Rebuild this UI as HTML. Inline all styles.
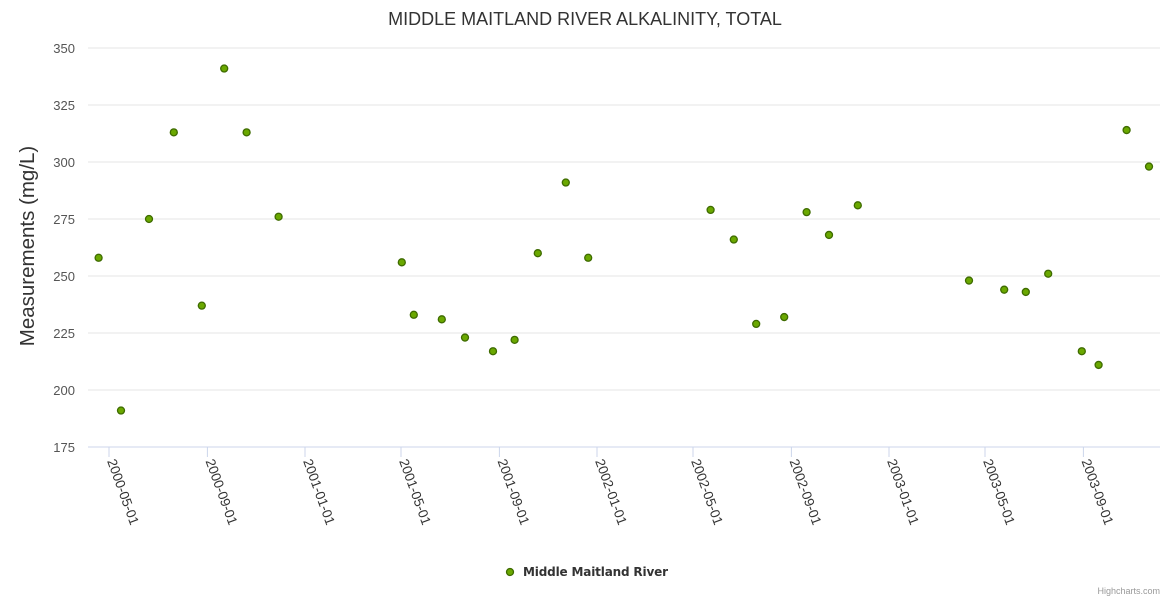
<!DOCTYPE html>
<html><head><meta charset="utf-8">
<style>
body{margin:0;background:#fff;font-family:"Liberation Sans",sans-serif;}
svg text{font-family:"Liberation Sans",sans-serif;}
</style></head>
<body>
<svg id="chart" width="1170" height="600" xmlns="http://www.w3.org/2000/svg">
<text x="585" y="25" text-anchor="middle" font-size="18" fill="#333">MIDDLE MAITLAND RIVER ALKALINITY, TOTAL</text>
<text transform="translate(34,246) rotate(-90)" text-anchor="middle" font-size="20.5" fill="#333">Measurements (mg/L)</text>
<g id="grid"></g><g id="xaxis"></g><g id="points"></g>
<g>
<circle cx="510" cy="572" r="3.5" fill="#6aa800" stroke="#3e6b00" stroke-width="1.3"/>
<text x="523" y="576" font-size="12" font-weight="bold" fill="#333" style="font-family:'DejaVu Sans',sans-serif" textLength="145">Middle Maitland River</text>
</g>
<text x="1160" y="594" text-anchor="end" font-size="9" fill="#999">Highcharts.com</text>
</svg>
<script>
const dates=["2000-04-18","2000-05-16","2000-06-20","2000-07-21","2000-08-25","2000-09-22","2000-10-20","2000-11-29","2001-05-02","2001-05-17","2001-06-21","2001-07-20","2001-08-24","2001-09-20","2001-10-19","2001-11-23","2001-12-21","2002-05-23","2002-06-21","2002-07-19","2002-08-23","2002-09-20","2002-10-18","2002-11-23","2003-04-11","2003-05-25","2003-06-21","2003-07-19","2003-08-30","2003-09-20","2003-10-25","2003-11-22"];
const values=[258,191,275,313,237,341,313,276,256,233,231,223,217,222,260,291,258,279,266,229,232,278,268,281,248,244,243,251,217,211,314,298];
const yTicks=[175,200,225,250,275,300,325,350];
const xTicks=["2000-05-01","2000-09-01","2001-01-01","2001-05-01","2001-09-01","2002-01-01","2002-05-01","2002-09-01","2003-01-01","2003-05-01","2003-09-01"];
const NS="http://www.w3.org/2000/svg";
const base=Date.UTC(2000,4,1);
function days(s){const p=s.split("-");return (Date.UTC(+p[0],p[1]-1,+p[2])-base)/86400000;}
function xs(s){return 109+days(s)*0.8;}
function ys(v){return 447-(v-175)*(399/175);}
function mk(t,a,parent){const e=document.createElementNS(NS,t);for(const k in a)e.setAttribute(k,a[k]);parent.appendChild(e);return e;}
const grid=document.getElementById("grid");
yTicks.forEach(v=>{
  const l=mk("line",{x1:88,x2:1160,y1:ys(v),y2:ys(v),stroke:v===175?"#ccd6eb":"#e6e6e6","stroke-width":1},grid);
  
  
  const t=mk("text",{x:75,y:ys(v)+5,"text-anchor":"end","font-size":13,fill:"#555"},grid);
  t.textContent=v;
  
  
});
const xa=document.getElementById("xaxis");
xTicks.forEach(d=>{
  const x=xs(d);
  const l=mk("line",{x1:x,x2:x,y1:447,y2:457,stroke:"#ccd6eb"},xa);
  
  
  const t=mk("text",{transform:`translate(${x-2},${461}) rotate(70)`,"font-size":13.5,fill:"#333"},xa);
  t.textContent=d;
  
  
});
const pts=document.getElementById("points");
dates.forEach((d,i)=>{
  const c=mk("circle",{cx:xs(d),cy:ys(values[i]),r:3.5,fill:"#6aa800",stroke:"#3e6b00","stroke-width":1.3},pts);
  
  
});
</script>
</body></html>
